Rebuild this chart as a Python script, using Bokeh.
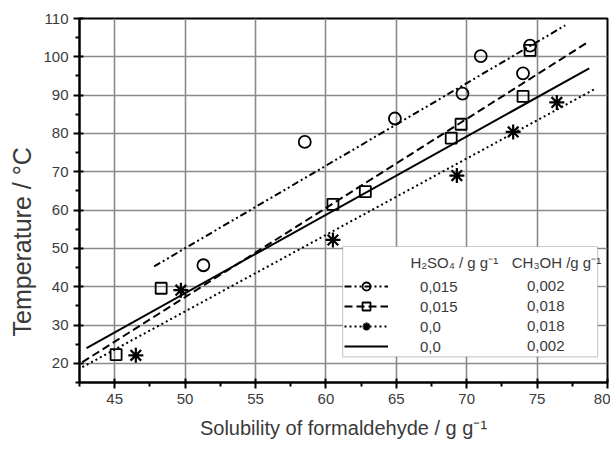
import math
from bokeh.plotting import figure
from bokeh.models import (Range1d, FixedTicker, Legend, LegendItem, BoxAnnotation, Label, Title)
from bokeh.embed import file_html
from bokeh.resources import INLINE

# ---- data ----
circ_x = [51.3, 58.5, 64.9, 69.7, 71.0, 74.0, 74.5]
circ_y = [45.6, 77.8, 83.9, 90.4, 100.2, 95.7, 102.9]
sq_x = [45.1, 48.3, 60.5, 62.8, 68.9, 69.6, 74.0, 74.5]
sq_y = [22.3, 39.6, 61.5, 64.8, 78.8, 82.4, 89.7, 101.7]
star_x = [46.5, 49.7, 60.5, 69.3, 73.3, 76.4]
star_y = [22.1, 39.1, 52.2, 69.0, 80.4, 88.1]

# fitted lines (order: circles, squares, stars, solid)
fit_x_start = [47.8, 42.7, 42.7, 43.0]
fit_x_end = [77.0, 78.6, 79.2, 78.7]
fit_y_start = [45.3, 20.3, 19.0, 24.0]
fit_y_end = [108.2, 103.8, 91.8, 97.0]

h2so4_vals = ["0,015", "0,015", "0,0", "0,0"]
ch3oh_vals = ["0,002", "0,018", "0,018", "0,002"]
x_ticks = [45, 50, 55, 60, 65, 70, 75, 80]
y_ticks = [20, 30, 40, 50, 60, 70, 80, 90, 100, 110]

FONT = "Liberation Sans"
TXT = "#3a3a3a"

p = figure(width=610, height=441, output_backend="svg", toolbar_location=None,
           x_range=Range1d(42.5, 80), y_range=Range1d(15, 110),
           min_border_left=78, min_border_right=3, min_border_top=18, min_border_bottom=58)
p.outline_line_color = "black"
p.outline_line_width = 2
p.background_fill_color = "white"
p.border_fill_color = "white"

p.xaxis[0].ticker = FixedTicker(ticks=x_ticks, minor_ticks=[t + 2.5 for t in x_ticks] + [42.5])
p.yaxis[0].ticker = FixedTicker(ticks=y_ticks, minor_ticks=[t + 5 for t in y_ticks] + [15])
for ax in (p.xaxis[0], p.yaxis[0]):
    ax.axis_line_width = 2
    ax.axis_line_color = "black"
    ax.major_tick_line_width = 2
    ax.minor_tick_line_width = 2
    ax.major_tick_in = 4
    ax.major_tick_out = 6
    ax.minor_tick_in = 0
    ax.minor_tick_out = 4
    ax.major_label_text_font = FONT
    ax.major_label_text_font_size = "15px"
    ax.major_label_text_color = TXT
    ax.major_label_standoff = 5

p.xaxis.axis_label = "Solubility of formaldehyde / g g\u207b\u00b9"
p.xaxis.axis_label_text_font = FONT
p.xaxis.axis_label_text_font_size = "20px"
p.xaxis.axis_label_text_font_style = "normal"
p.xaxis.axis_label_text_color = TXT
p.xaxis.axis_label_standoff = 10

p.grid.grid_line_color = "#8a8a8a"
p.grid.grid_line_width = 1.6
p.xgrid.ticker = FixedTicker(ticks=x_ticks)
p.ygrid.ticker = FixedTicker(ticks=y_ticks)

r_l1 = p.line([fit_x_start[0], fit_x_end[0]], [fit_y_start[0], fit_y_end[0]],
              line_color="black", line_width=2, line_dash="7 3 2 3 2 3")
r_l2 = p.line([fit_x_start[1], fit_x_end[1]], [fit_y_start[1], fit_y_end[1]],
              line_color="black", line_width=2, line_dash="8 4")
r_l3 = p.line([fit_x_start[2], fit_x_end[2]], [fit_y_start[2], fit_y_end[2]],
              line_color="black", line_width=2, line_dash="2 3")
r_l4 = p.line([fit_x_start[3], fit_x_end[3]], [fit_y_start[3], fit_y_end[3]],
              line_color="black", line_width=2)

r_c = p.scatter(circ_x, circ_y, marker="circle", size=12, fill_color="white",
                fill_alpha=0, line_color="black", line_width=1.8)
r_s = p.scatter(sq_x, sq_y, marker="square", size=11, fill_color="white",
                fill_alpha=0, line_color="black", line_width=1.8)
r_a = p.scatter(star_x, star_y, marker="asterisk", size=15, line_color="black", line_width=2.2)

box = BoxAnnotation(left=61.19, right=79.3, top=50.5, bottom=21.7,
                    fill_color="white", fill_alpha=1, line_color="#555555", line_width=1.2)
p.add_layout(box)

legend = Legend(items=[
    LegendItem(label=h2so4_vals[0], renderers=[r_l1, r_c]),
    LegendItem(label=h2so4_vals[1], renderers=[r_l2, r_s]),
    LegendItem(label=h2so4_vals[2], renderers=[r_l3, r_a]),
    LegendItem(label=h2so4_vals[3], renderers=[r_l4]),
], location=(265, 26), padding=0, margin=0, spacing=0,
    glyph_width=44, glyph_height=20, label_height=20, label_standoff=32,
    label_text_font=FONT, label_text_font_size="15px", label_text_color=TXT,
    border_line_alpha=0, background_fill_alpha=0)
p.add_layout(legend)

row_y = [40.1, 34.9, 29.7, 24.55]
for v, yy in zip(ch3oh_vals, row_y):
    p.add_layout(Label(x=74.28, y=yy, text=v, text_font=FONT, text_font_size="15px",
                       text_color=TXT, text_baseline="middle"))
p.add_layout(Label(x=66.0, y=46.4, text="H\u2082SO\u2084 / g g\u207b\u00b9", text_font=FONT,
                   text_font_size="15px", text_color=TXT, text_baseline="middle"))
p.add_layout(Label(x=73.2, y=46.4, text="CH\u2083OH /g g\u207b\u00b9", text_font=FONT,
                   text_font_size="15px", text_color=TXT, text_baseline="middle"))

ytitle = Title(text="Temperature / \u00b0C", align="left", offset=46,
               text_font=FONT, text_font_size="25px", text_font_style="normal",
               text_color=TXT)
p.add_layout(ytitle, "left")

open("out.html", "w").write(file_html(p, INLINE))
